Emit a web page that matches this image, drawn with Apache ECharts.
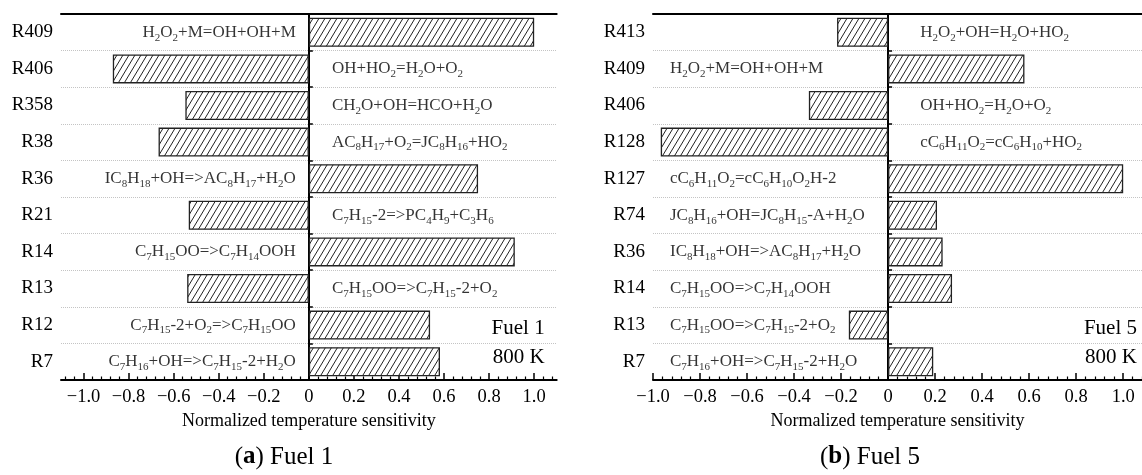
<!DOCTYPE html>
<html>
<head>
<meta charset="utf-8">
<script src="https://cdn.jsdelivr.net/npm/echarts@6/dist/echarts.min.js"></script>
<style>
html,body{margin:0;padding:0;background:#fff;}
#chart{width:1142px;height:475px;}
</style>
</head>
<body>
<div id="chart"></div>
<script>
// ---- Data ----
const fuel1Reactions = ['R409','R406','R358','R38','R36','R21','R14','R13','R12','R7'];
const fuel1Values = [1.00, -0.87, -0.548, -0.667, 0.751, -0.533, 0.914, -0.54, 0.538, 0.582];
const fuel1Equations = ['H_2O_2+M=OH+OH+M','OH+HO_2=H_2O+O_2','CH_2O+OH=HCO+H_2O','AC_8H_17+O_2=JC_8H_16+HO_2',
  'IC_8H_18+OH=>AC_8H_17+H_2O','C_7H_15-2=>PC_4H_9+C_3H_6','C_7H_15OO=>C_7H_14OOH','C_7H_15OO=>C_7H_15-2+O_2',
  'C_7H_15-2+O_2=>C_7H_15OO','C_7H_16+OH=>C_7H_15-2+H_2O'];
const fuel1Sides = ['L','R','R','R','L','R','L','R','L','L'];

const fuel5Reactions = ['R413','R409','R406','R128','R127','R74','R36','R14','R13','R7'];
const fuel5Values = [-0.217, 0.58, -0.337, -0.967, 1.00, 0.208, 0.232, 0.272, -0.167, 0.192];
const fuel5Equations = ['H_2O_2+OH=H_2O+HO_2','H_2O_2+M=OH+OH+M','OH+HO_2=H_2O+O_2','cC_6H_11O_2=cC_6H_10+HO_2',
  'cC_6H_11O_2=cC_6H_10O_2H-2','JC_8H_16+OH=JC_8H_15-A+H_2O','IC_8H_18+OH=>AC_8H_17+H_2O','C_7H_15OO=>C_7H_14OOH',
  'C_7H_15OO=>C_7H_15-2+O_2','C_7H_16+OH=>C_7H_15-2+H_2O'];
const fuel5Sides = ['R','L','R','R','L','L','L','L','L','L'];

const fuel1MajorTicks = [-1.0,-0.8,-0.6,-0.4,-0.2,0,0.2,0.4,0.6,0.8,1.0];
const fuel5MajorTicks = [-1.0,-0.8,-0.6,-0.4,-0.2,0,0.2,0.4,0.6,0.8,1.0];
const axisName = 'Normalized temperature sensitivity';
const captions = [['a','Fuel 1'],['b','Fuel 5']];
const panelNotes = [['Fuel 1','800 K'],['Fuel 5','800 K']];

// ---- Helpers ----
const FONT = '"Liberation Serif", "Times New Roman", serif';
const INK = '#000';

function minorTicks(lo, hi) {
  const out = [];
  for (let i = lo; i <= hi; i++) if (i % 5 !== 0) out.push(+(i * 0.04).toFixed(2));
  return out;
}
function fmtTick(v) {
  if (Math.abs(v) < 1e-9) return '0';
  const s = Math.abs(v).toFixed(1);
  return v < 0 ? '\u2212' + s : s;
}
function toRich(eq) {
  const parts = eq.split(/_(\d+)/);
  return parts.map((p, i) => p === '' ? '' : (i % 2 ? '{s|' + p + '}' : '{n|' + p + '}')).join('');
}
function hatch() {
  const w = 6, h = 10;
  const c = document.createElement('canvas');
  c.width = w; c.height = h;
  const g = c.getContext('2d');
  g.fillStyle = '#fff'; g.fillRect(0, 0, w, h);
  g.strokeStyle = '#222'; g.lineWidth = 1;
  g.beginPath();
  for (const dx of [-w, 0, w]) { g.moveTo(dx, h); g.lineTo(dx + w, 0); }
  g.stroke();
  return c;
}
const pattern = { image: hatch(), repeat: 'repeat' };

const richStyles = {
  n: { fontFamily: FONT, fontSize: 17, color: INK, lineHeight: 22 },
  s: { fontFamily: FONT, fontSize: 11, color: INK, lineHeight: 11, verticalAlign: 'bottom' }
};

// panel layout (pixels)
const panels = [
  { left: 61, width: 495.7, min: -1.1, max: 1.1, minorLo: -27, minorHi: 27,
    cats: fuel1Reactions, vals: fuel1Values, eqs: fuel1Equations, sides: fuel1Sides, majors: fuel1MajorTicks,
    leftAnchor: 0, leftPos: 'left', leftDist: 13, rightDist: 23 },
  { left: 653, width: 489, min: -1.0, max: 1.08, minorLo: -25, minorHi: 27,
    cats: fuel5Reactions, vals: fuel5Values, eqs: fuel5Equations, sides: fuel5Sides, majors: fuel5MajorTicks,
    leftAnchor: -0.928, leftPos: 'right', leftDist: 0, rightDist: 32 }
];
const TOP = 14, HEIGHT = 366;

const option = { animation: false, grid: [], xAxis: [], yAxis: [], series: [], graphic: [] };

panels.forEach((p, gi) => {
  option.grid.push({ left: p.left, top: TOP, width: p.width, height: HEIGHT });
  const xi = option.xAxis.length;
  // main bottom axis
  option.xAxis.push({
    type: 'value', gridIndex: gi, position: 'bottom', min: p.min, max: p.max,
    name: axisName, nameLocation: 'middle', nameGap: 25,
    nameTextStyle: { fontFamily: FONT, fontSize: 18, color: INK },
    axisLine: { show: true, onZero: false, lineStyle: { color: '#000', width: 2 } },
    axisTick: { show: true, inside: true, length: 7, customValues: p.majors, lineStyle: { color: '#000', width: 1.5 } },
    axisLabel: { show: true, customValues: p.majors, formatter: fmtTick, margin: 8,
      fontFamily: FONT, fontSize: 18.5, color: INK },
    splitLine: { show: false }
  });
  // minor ticks on the bottom
  option.xAxis.push({
    type: 'value', gridIndex: gi, position: 'bottom', min: p.min, max: p.max,
    axisLine: { show: false, onZero: false },
    axisTick: { show: true, inside: true, length: 3.5, customValues: minorTicks(p.minorLo, p.minorHi), lineStyle: { color: '#000', width: 1.2 } },
    axisLabel: { show: false }, splitLine: { show: false }
  });
  // top line
  option.xAxis.push({
    type: 'value', gridIndex: gi, position: 'top', min: p.min, max: p.max,
    axisLine: { show: true, onZero: false, lineStyle: { color: '#000', width: 2 } },
    axisTick: { show: false }, axisLabel: { show: false }, splitLine: { show: false }
  });
  const yi = option.yAxis.length;
  // category labels + dotted separators
  option.yAxis.push({
    type: 'category', gridIndex: gi, position: 'left', inverse: true, data: p.cats,
    axisLine: { show: false, onZero: false }, axisTick: { show: false },
    axisLabel: { margin: 8, fontFamily: FONT, fontSize: 19, color: INK },
    splitLine: { show: true, lineStyle: { color: '#c4c4c4', type: 'dotted', width: 1 } }
  });
  // zero line with small ticks
  option.yAxis.push({
    type: 'category', gridIndex: gi, position: 'left', inverse: true, data: p.cats,
    axisLine: { show: true, onZero: true, onZeroAxisIndex: xi, lineStyle: { color: '#000', width: 2 } },
    axisTick: { show: true, inside: true, length: 4, lineStyle: { color: '#000', width: 1.5 } },
    axisLabel: { show: false }, splitLine: { show: false }
  });

  option.series.push({
    type: 'bar', xAxisIndex: xi, yAxisIndex: yi, data: p.vals, barWidth: 29, silent: true,
    itemStyle: { color: pattern, borderColor: '#222', borderWidth: 1.3 },
    z: 2
  });

  const ann = p.cats.map((c, i) => {
    const left = p.sides[i] === 'L';
    return {
      value: [left ? p.leftAnchor : 0, c],
      label: {
        show: true,
        position: left ? p.leftPos : 'right',
        distance: left ? p.leftDist : p.rightDist,
        formatter: toRich(p.eqs[i]),
        rich: richStyles
      }
    };
  });
  option.series.push({
    type: 'scatter', xAxisIndex: xi, yAxisIndex: yi, data: ann, symbolSize: 0.1, silent: true,
    itemStyle: { color: 'rgba(0,0,0,0)' }, z: 5
  });

  // panel notes
  const rightX = p.left + p.width - (gi === 0 ? 12 : 5);
  option.graphic.push({ type: 'text', x: rightX, y: 328, silent: true,
    style: { text: panelNotes[gi][0], align: 'right', verticalAlign: 'middle', font: '21px ' + FONT, fill: INK } });
  option.graphic.push({ type: 'text', x: rightX, y: 357, silent: true,
    style: { text: panelNotes[gi][1], align: 'right', verticalAlign: 'middle', font: '21px ' + FONT, fill: INK } });
});

// captions
const capX = [284, 870];
captions.forEach((c, i) => {
  option.graphic.push({
    type: 'text', x: capX[i], y: 457, silent: true,
    style: {
      text: '{r|(}{b|' + c[0] + '}{r|) ' + c[1] + '}',
      align: 'center', verticalAlign: 'middle',
      rich: {
        r: { fontFamily: FONT, fontSize: 25, fill: INK },
        b: { fontFamily: FONT, fontSize: 25, fontWeight: 'bold', fill: INK }
      }
    }
  });
});

const chart = echarts.init(document.getElementById('chart'), null, { renderer: 'canvas' });
chart.setOption(option);
</script>
</body>
</html>
